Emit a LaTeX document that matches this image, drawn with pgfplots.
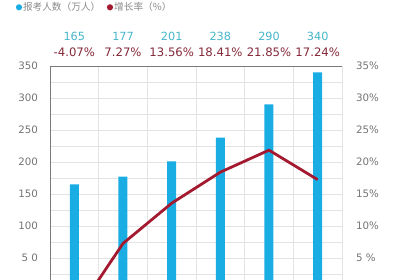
\documentclass[border=0pt]{standalone}
\usepackage{fontspec}
\setmainfont{DejaVu Sans}
\newfontfamily\cjk{Noto Sans CJK SC}
\usepackage{pgfplots}
\pgfplotsset{compat=1.18}
\definecolor{barc}{HTML}{1AADE3}
\definecolor{linec}{HTML}{A3192F}
\definecolor{numc}{HTML}{45B5C9}
\definecolor{pctc}{HTML}{842838}
\definecolor{tickc}{HTML}{747474}
\definecolor{legc}{HTML}{8A8A8A}
\definecolor{gridc}{HTML}{E3E3E3}
\definecolor{framec}{HTML}{7A7A7A}
\begin{document}
\begin{tikzpicture}
\useasboundingbox (0,0) rectangle (400bp,280bp);
\pgfplotsset{
  common/.style={
    at={(50bp,0bp)}, anchor=south west, scale only axis,
    width=292bp, height=214bp,
    xmin=0.5, xmax=6.5,
    xtick={1,...,6}, xticklabels={},
    major tick length=0, minor tick length=0,
    axis line style={draw=none},
    /pgf/number format/assume math mode=true,
    yticklabel style={font=\fontsize{10.3}{12}\selectfont, text=tickc},
  }
}
\begin{axis}[common,
  ymin=15.625, ymax=350,
  ytick={50,100,...,350},
  yticklabels={5 0,100,150,200,250,300,350},
  minor ytick={25,75,...,325},
  minor xtick={0.5,1.5,...,6.5},
  xmajorgrids=false, xminorgrids=true,
  ymajorgrids=true, yminorgrids=true,
  grid style={draw=gridc, line width=0.6pt},
  minor grid style={draw=gridc, line width=0.6pt},
  yticklabel style={xshift=-8.5bp},
]
\addplot[ybar, bar width=9bp, fill=barc, draw=none] coordinates {(1,165) (2,177) (3,201) (4,238) (5,290) (6,340)};
\draw[framec, line width=0.6pt] (rel axis cs:0,0) -- (rel axis cs:0,1) -- (rel axis cs:1,1) -- (rel axis cs:1,0);
\end{axis}
\begin{axis}[common,
  ymin=1.5625, ymax=35,
  ytick={5,10,...,35},
  yticklabels={5 \%,10\%,15\%,20\%,25\%,30\%,35\%},
  yticklabel pos=right,
  yticklabel style={xshift=10.5bp},
]
\addplot[line width=2.8pt, color=linec, line join=round] coordinates {(1,-4.07) (2,7.27) (3,13.56) (4,18.41) (5,21.85) (6,17.24)};
\end{axis}
% data labels
\foreach \x/\n/\p in {74.3/165/-4.07\%, 123/177/7.27\%, 171.7/201/13.56\%, 220.3/238/18.41\%, 269/290/21.85\%, 317.7/340/17.24\%}{
  \node[text=numc, font=\fontsize{11.3}{13}\selectfont, inner sep=0] at (\x bp,244bp) {\n};
  \node[text=pctc, font=\fontsize{11.7}{13}\selectfont, inner sep=0] at (\x bp,228bp) {\p};
}
% legend
\fill[barc] (19bp,272.7bp) circle (3.1bp);
\node[anchor=west, text=legc, font=\cjk\fontsize{9.7}{11}\selectfont, inner sep=0] at (22.8bp,272.7bp) {报考人数（万人）};
\fill[linec] (110bp,272.7bp) circle (3.1bp);
\node[anchor=west, text=legc, font=\cjk\fontsize{9.7}{11}\selectfont, inner sep=0] at (114bp,272.7bp) {增长率（\%）};
\end{tikzpicture}
\end{document}
